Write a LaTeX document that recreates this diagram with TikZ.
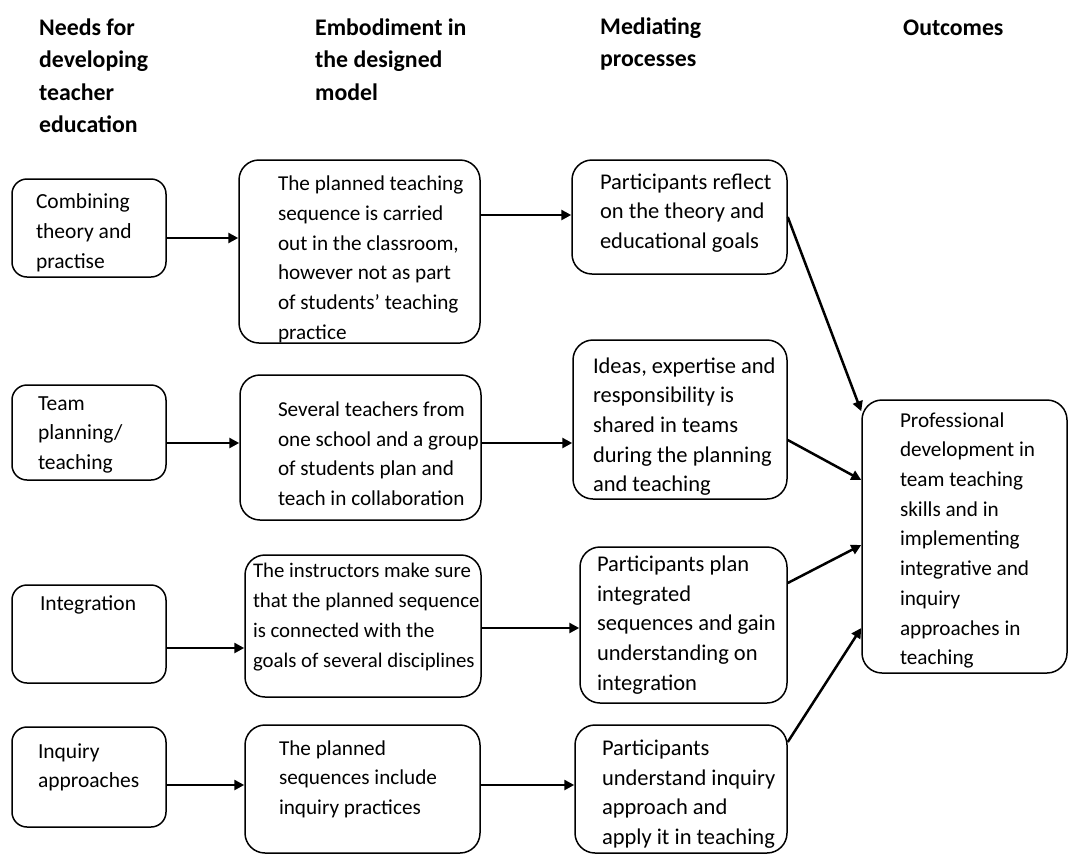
\documentclass[tikz,border=0pt]{standalone}
\usepackage{fontspec}
\setmainfont{Carlito}
\usetikzlibrary{arrows.meta}

% lines of a box: [shift down]{width kept for the text}{lines}
\newcommand\boxlines[3][0pt]{\raisebox{-#1}[\height][\depth]{\makebox[#2][l]{\begin{tabular}{@{}l@{}}#3\end{tabular}}}}

\tikzset{
    stage/.style={draw, line width=1.5pt, rounded corners=20pt, inner sep=0pt,
        font=\fontsize{21.2}{29.7}\selectfont},
    need/.style={stage, rounded corners=15pt, minimum width=154pt,
        font=\fontsize{21.5}{29.7}\selectfont},
    proc/.style={stage, font=\fontsize{22.5}{29.7}\selectfont},
    head/.style={anchor=base west, inner sep=0pt,
        font=\bfseries\fontsize{23.8}{32.5}\selectfont},
    link/.style={line width=2.5pt, -{Triangle[length=10pt,width=10pt]}},
}

\begin{document}
\begin{tikzpicture}[x=1pt, y=-1pt, line join=round]
            \useasboundingbox (0,0) rectangle (1075,854);

            \node[head] (h1) at (39,35) {\begin{tabular}[t]{@{}l@{}}Needs for\\developing\\teacher\\education\end{tabular}};
            \node[head] (h2) at (315,35) {\begin{tabular}[t]{@{}l@{}}Embodiment in\\the designed\\model\end{tabular}};
            \node[head] (h3) at (600,34) {\begin{tabular}[t]{@{}l@{}}Mediating\\processes\end{tabular}};
            \node[head] (h4) at (903,35) {Outcomes};

            \node[need, minimum height=98pt] (n1) at (89,228) {\boxlines[4.5pt]{106pt}{Combining\\theory and\\practise}};
            \node[need, minimum height=95pt] (n2) at (89,432.5) {\boxlines[1.5pt]{102pt}{Team\\planning/\\teaching}};
            \node[need, minimum height=98pt] (n3) at (89,634) {\boxlines[-29pt]{98pt}{Integration}};
            \node[need, minimum height=100pt] (n4) at (89,777) {\boxlines[-10pt]{102pt}{Inquiry\\approaches}};

            \node[stage, minimum width=241pt, minimum height=183pt] (e1) at (359.5,251.5) {\boxlines[7.5pt]{163pt}{The planned teaching\\sequence is carried\\out in the classroom,\\however not as part\\of students’ teaching\\practice}};
            \node[stage, minimum width=241pt, minimum height=145pt] (e2) at (360.5,447.5) {\boxlines[7.5pt]{165pt}{Several teachers from\\one school and a group\\of students plan and\\teach in collaboration}};
            \node[stage, minimum width=236pt, minimum height=142pt, font=\fontsize{20.8}{29.7}\selectfont] (e3) at (363,626) {\boxlines[-9.5pt]{220pt}{The instructors make sure\\that the planned sequence\\is connected with the\\goals of several disciplines}};
            \node[stage, minimum width=235pt, minimum height=128pt] (e4) at (362.5,789) {\boxlines[-10pt]{167pt}{The planned\\sequences include\\inquiry practices}};

            \node[proc, minimum width=215pt, minimum height=114pt] (m1) at (679.5,217) {\boxlines[-4pt]{159pt}{Participants reflect\\on the theory and\\educational goals}};
            \node[proc, minimum width=214pt, minimum height=159pt] (m2) at (680,419.5) {\boxlines[7pt]{174pt}{Ideas, expertise and\\responsibility is\\shared in teams\\during the planning\\and teaching}};
            \node[proc, minimum width=207pt, minimum height=156pt] (m3) at (683.5,625) {\boxlines{173pt}{Participants plan\\integrated\\sequences and gain\\understanding on\\integration}};
            \node[proc, minimum width=212pt, minimum height=128pt] (m4) at (681,789) {\boxlines[5pt]{158pt}{Participants\\understand inquiry\\approach and\\apply it in teaching}};

            \node[stage, minimum width=205pt, minimum height=273pt] (o1) at (964.5,536.5) {\boxlines[3.5pt]{129pt}{Professional\\development in\\team teaching\\skills and in\\implementing\\integrative and\\inquiry\\approaches in\\teaching}};

            % needs -> embodiment -> processes
            \coordinate (a1) at ([yshift=-10pt]n1.east);
            \coordinate (a2) at ([yshift=-10.5pt]n2.east);
            \coordinate (a3) at ([yshift=-14pt]n3.east);
            \coordinate (a4) at ([yshift=-8pt]n4.east);
            \coordinate (b1) at ([yshift=36.5pt]e1.east);
            \coordinate (b2) at ([yshift=4.5pt]e2.east);
            \coordinate (b3) at ([yshift=-2pt]e3.east);
            \coordinate (b4) at ([yshift=4pt]e4.east);
            \draw[link] (a1) -- (a1 -| e1.west);
            \draw[link] (a2) -- (a2 -| e2.west);
            \draw[link] (a3) -- (a3 -| e3.west);
            \draw[link] (a4) -- (a4 -| e4.west);
            \draw[link] (b1) -- (b1 -| m1.west);
            \draw[link] (b2) -- (b2 -| m2.west);
            \draw[link] (b3) -- (b3 -| m3.west);
            \draw[link] (b4) -- (b4 -| m4.west);

            % processes -> outcomes
            \draw[link] (m1.east) -- ([yshift=-12pt]o1.north west);
            \draw[link] ([yshift=-20.5pt]m2.east) -- ([yshift=56.5pt]o1.west);
            \draw[link] ([yshift=42pt]m3.east) -- ([yshift=-8.5pt]o1.west);
            \draw[link] ([yshift=47pt]m4.east) -- ([yshift=-91.5pt]o1.west);

        \end{tikzpicture}
\end{document}
